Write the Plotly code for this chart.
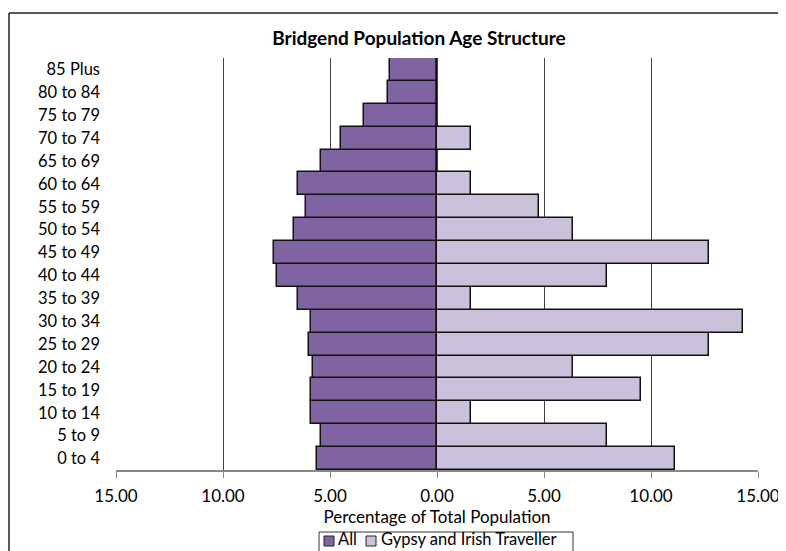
import plotly.graph_objects as go

age_groups = ["0 to 4", "5 to 9", "10 to 14", "15 to 19", "20 to 24", "25 to 29",
              "30 to 34", "35 to 39", "40 to 44", "45 to 49", "50 to 54", "55 to 59",
              "60 to 64", "65 to 69", "70 to 74", "75 to 79", "80 to 84", "85 Plus"]
all_pct = [5.6, 5.4, 5.9, 5.9, 5.8, 6.0, 5.9, 6.5, 7.5, 7.6, 6.7, 6.1,
           6.5, 5.4, 4.5, 3.4, 2.3, 2.2]
gypsy_pct = [11.11, 7.94, 1.59, 9.52, 6.35, 12.70, 14.29, 1.59, 7.94, 12.70, 6.35, 4.76,
             1.59, 0.0, 1.59, 0.0, 0.0, 0.0]
tick_vals = [-15, -10, -5, 0, 5, 10, 15]
tick_text = ["15.00", "10.00", "5.00", "0.00", "5.00", "10.00", "15.00"]
series_names = ["All", "Gypsy and Irish Traveller"]
series_colors = ["#8064A2", "#CCC1DA"]

FONT = "Lato"

fig = go.Figure()
fig.add_trace(go.Bar(
    y=age_groups, x=[-v for v in all_pct], orientation="h", name=series_names[0],
    marker=dict(color=series_colors[0], line=dict(color="#111111", width=1.5)),
    customdata=all_pct, hovertemplate="%{y}: %{customdata:.2f}<extra>All</extra>",
    showlegend=False,
))
fig.add_trace(go.Bar(
    y=age_groups, x=gypsy_pct, orientation="h", name=series_names[1],
    marker=dict(color=series_colors[1], line=dict(color="#111111", width=1.5)),
    showlegend=False,
))

# page is offset by the 8px body margin
OFF = 8
W, H = 786 - OFF, 551 - OFF
ml, mr, mt, mb = 116 - OFF, 786 - 758, 58 - OFF, 551 - 470
pw = W - ml - mr
ph = H - mt - mb


def px(xp):
    return (xp - OFF - ml) / pw


def py(yp):
    return (mt + ph - (yp - OFF)) / ph


fig.update_layout(
    width=W, height=H,
    margin=dict(l=ml, r=mr, t=mt, b=mb, autoexpand=False),
    barmode="overlay", bargap=0,
    paper_bgcolor="white", plot_bgcolor="white",
    font=dict(family=FONT, size=17, color="#000000"),
    title=dict(text="<b>Bridgend Population Age Structure</b>", x=(419 - OFF) / W, xanchor="center",
               y=1 - (38 - OFF) / H, yanchor="middle", font=dict(family=FONT, size=19, color="#000000")),
    xaxis=dict(range=[-15, 15], tickvals=tick_vals, ticktext=tick_text,
               showgrid=True, gridcolor="#404040", gridwidth=1, zeroline=False,
               showline=True, linecolor="#888888", linewidth=1.5,
               ticks="outside", ticklen=6, tickcolor="#888888", ticklabelstandoff=4,
               title=dict(text="Percentage of Total Population", standoff=3,
                          font=dict(family=FONT, size=17)),
               tickfont=dict(family=FONT, size=17)),
    yaxis=dict(showgrid=False, showline=False, ticks="", ticklabelstandoff=15,
               tickfont=dict(family=FONT, size=16.5)),
    showlegend=False,
)

# outer chart frame (top and left edges visible)
fig.add_shape(type="line", xref="paper", yref="paper", x0=px(9), x1=px(800),
              y0=py(13), y1=py(13), line=dict(color="#222222", width=1.5))
fig.add_shape(type="line", xref="paper", yref="paper", x0=px(9), x1=px(9),
              y0=py(13), y1=py(600), line=dict(color="#222222", width=1.5))

# legend box drawn to match the reference's compact legend
fig.add_shape(type="rect", xref="paper", yref="paper", x0=px(319), x1=px(573),
              y0=py(532), y1=py(556), line=dict(color="#333333", width=1), fillcolor="white")
sw_x = [324, 366]
tx_x = [337, 380]
for name, col, sx, tx in zip(series_names, series_colors, sw_x, tx_x):
    fig.add_shape(type="rect", xref="paper", yref="paper", x0=px(sx), x1=px(sx + 10),
                  y0=py(536), y1=py(546), line=dict(color="#222222", width=1), fillcolor=col)
    fig.add_annotation(text=name, xref="paper", yref="paper", x=px(tx), y=py(550),
                       xanchor="left", yanchor="bottom", showarrow=False, borderpad=0,
                       font=dict(family=FONT, size=16.5, color="#000000"))

fig.write_html("out.html")
